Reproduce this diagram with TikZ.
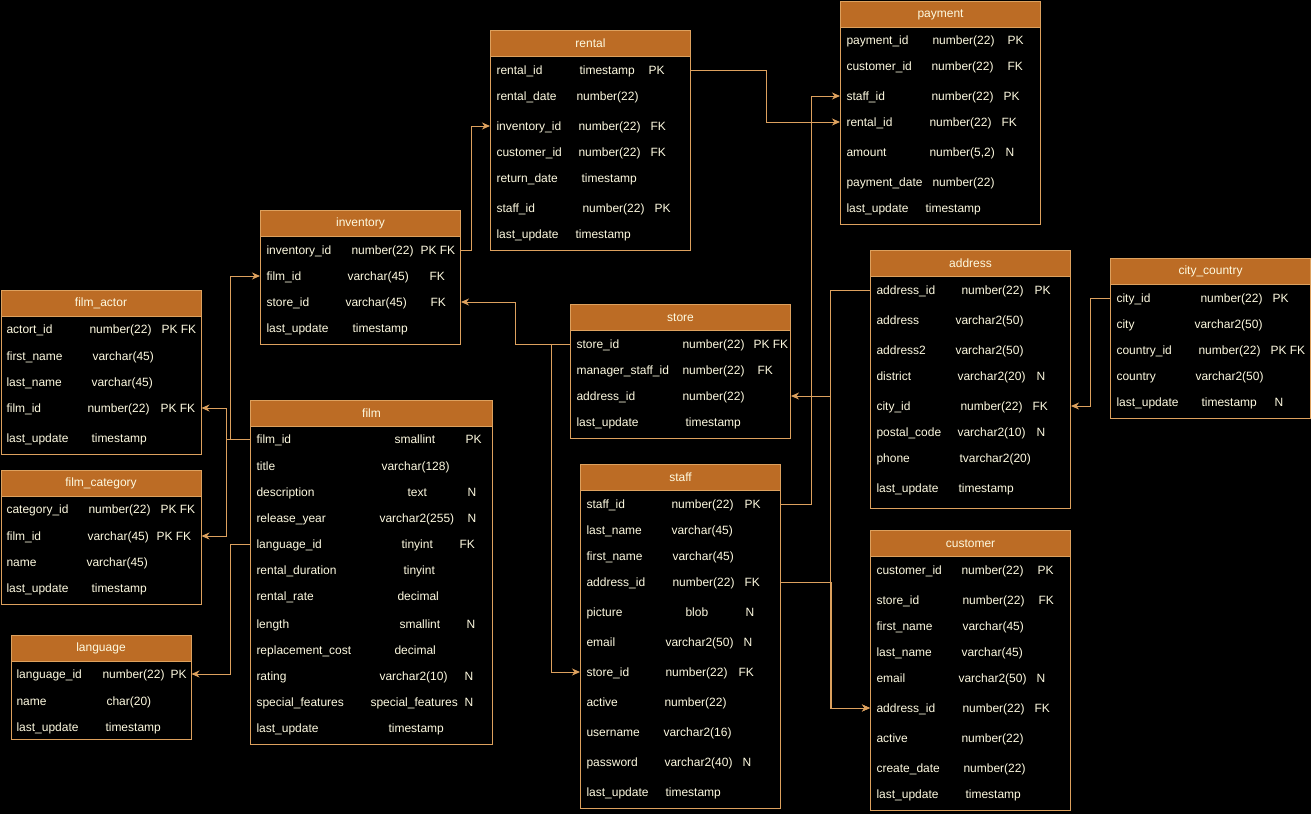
\documentclass[tikz,border=0pt]{standalone}
\usepackage{fontspec}
\setmainfont{Liberation Sans}
\usetikzlibrary{arrows.meta}
\definecolor{head}{HTML}{BC6C25}
\definecolor{edge}{HTML}{DDA15E}
\definecolor{cream}{HTML}{FEFAE0}
\tikzset{
	hdr/.style={draw=edge,fill=head,text=cream,anchor=north west,inner sep=0pt,minimum height=26},
	tbody/.style={draw=edge,anchor=north west,inner sep=0pt},
	cell/.style={anchor=base west,text=cream,inner sep=0pt},
	link/.style={draw=edge,-{Stealth[length=8pt,width=7pt,inset=2.5pt]}},
}
\newcommand\entity[6]{%
	\node [hdr,minimum width=#4] (#1) at (#2,#3) {#6};
	\node [tbody,minimum width=#4,minimum height=#5-#3-26] (#1-b) at (#2,#3+26) {};
}
\newcommand\rows[3]{%
	\foreach \ry/\rn/\rx/\rt/\kx/\rk [count=\ri] in {#3}{
		\node [cell] (#1-\ri) at (#2,\ry+4.5) {\rn};
		\node [cell] (#1-\ri-t) at (\rx,\ry+4.5) {\rt};
		\node [cell] (#1-\ri-k) at (\kx,\ry+4.5) {\rk};
		\coordinate (#1-\ri-l) at (#1-b.west |- 0,\ry);
		\coordinate (#1-\ri-r) at (#1-b.east |- 0,\ry);
	}
}
\begin{document}
\begin{tikzpicture}[x=1pt,y=-1pt,line width=1pt,font=\fontsize{12}{14}\selectfont]
	\fill [black] (0,0) rectangle (1311,814);
	\useasboundingbox (0,0) rectangle (1311,814);
	\entity{payment}{840}{1}{200}{224}{payment}
	\rows{payment}{846}{40/payment\_id/932/number(22)/1007/PK,
		66/customer\_id/931/number(22)/1007/FK,
		96/staff\_id/931/number(22)/1003/PK,
		122/rental\_id/929/number(22)/1001/FK,
		152/amount/929/{number(5,2)}/1005/N,
		182/payment\_date/932/number(22)/0/{},
		208/last\_update/925/timestamp/0/{}}
	\entity{rental}{490}{30}{200}{250}{rental}
	\rows{rental}{496}{70/rental\_id/579/timestamp/648/PK,
		96/rental\_date/576/number(22)/0/{},
		126/inventory\_id/578/number(22)/650/FK,
		152/customer\_id/578/number(22)/650/FK,
		178/return\_date/581/timestamp/0/{},
		208/staff\_id/582/number(22)/654/PK,
		234/last\_update/575/timestamp/0/{}}
	\entity{inventory}{260}{210}{200}{344}{inventory}
	\rows{inventory}{266}{250/inventory\_id/351/number(22)/420/PK FK,
		276/film\_id/347/varchar(45)/429/FK,
		302/store\_id/345/varchar(45)/430/FK,
		328/last\_update/352/timestamp/0/{}}
	\entity{actor}{0.5}{290}{200}{454}{film\_actor}
	\rows{actor}{6}{329/actort\_id/89/number(22)/161/PK FK,
		356/first\_name/92/varchar(45)/0/{},
		382/last\_name/91/varchar(45)/0/{},
		408/film\_id/87/number(22)/160/PK FK,
		438/last\_update/91/timestamp/0/{}}
	\entity{category}{0.5}{470}{200}{604}{film\_category}
	\rows{category}{6}{509/category\_id/88/number(22)/160/PK FK,
		536/film\_id/87/varchar(45)/156/PK FK,
		562/name/86/varchar(45)/0/{},
		588/last\_update/91/timestamp/0/{}}
	\entity{language}{10.5}{635}{180}{739}{language}
	\rows{language}{16}{674/language\_id/102/number(22)/170/PK,
		701/name/106/char(20)/0/{},
		727/last\_update/105/timestamp/0/{}}
	\entity{film}{250}{400}{242}{744}{film}
	\rows{film}{256}{439/film\_id/394/smallint/465/PK,
		466/title/381/varchar(128)/0/{},
		492/description/407/text/467/N,
		518/release\_year/379/varchar2(255)/467/N,
		544/language\_id/401/tinyint/459/FK,
		570/rental\_duration/403/tinyint/0/{},
		596/rental\_rate/397/decimal/0/{},
		624/length/399/smallint/466/N,
		650/replacement\_cost/394/decimal/0/{},
		676/rating/379/varchar2(10)/464/N,
		702/special\_features/370/special\_features/464/N,
		728/last\_update/388/timestamp/0/{}}
	\entity{store}{570}{304}{220}{438}{store}
	\rows{store}{576}{344/store\_id/682/number(22)/753/PK FK,
		370/manager\_staff\_id/682/number(22)/757/FK,
		396/address\_id/682/number(22)/0/{},
		422/last\_update/685/timestamp/0/{}}
	\entity{staff}{580}{464}{200}{808}{staff}
	\rows{staff}{586}{504/staff\_id/671/number(22)/744/PK,
		530/last\_name/671/varchar(45)/0/{},
		556/first\_name/672/varchar(45)/0/{},
		582/address\_id/672/number(22)/744/FK,
		612/picture/685/blob/745/N,
		642/email/665/varchar2(50)/743/N,
		672/store\_id/665/number(22)/738/FK,
		702/active/664/number(22)/0/{},
		732/username/663/varchar2(16)/0/{},
		762/password/664/varchar2(40)/742/N,
		792/last\_update/665/timestamp/0/{}}
	\entity{address}{870}{250}{200}{508}{address}
	\rows{address}{876}{290/address\_id/961/number(22)/1034/PK,
		320/address/955/varchar2(50)/0/{},
		350/address2/955/varchar2(50)/0/{},
		376/district/957/varchar2(20)/1036/N,
		406/city\_id/960/number(22)/1032/FK,
		432/postal\_code/957/varchar2(10)/1036/N,
		458/phone/959/tvarchar2(20)/0/{},
		488/last\_update/958/timestamp/0/{}}
	\entity{customer}{870}{530}{200}{810}{customer}
	\rows{customer}{876}{570/customer\_id/961/number(22)/1037/PK,
		600/store\_id/962/number(22)/1038/FK,
		626/first\_name/962/varchar(45)/0/{},
		652/last\_name/961/varchar(45)/0/{},
		678/email/958/varchar2(50)/1036/N,
		708/address\_id/962/number(22)/1034/FK,
		738/active/961/number(22)/0/{},
		768/create\_date/963/number(22)/0/{},
		794/last\_update/965/timestamp/0/{}}
	\entity{city}{1110}{258}{200}{418}{city\_country}
	\rows{city}{1116}{298/city\_id/1200/number(22)/1272/PK,
		324/city/1194/varchar2(50)/0/{},
		350/country\_id/1198/number(22)/1270/PK FK,
		376/country/1195/varchar2(50)/0/{},
		402/last\_update/1201/timestamp/1274/N}
	\draw [link] (rental-1-r) -- ++(75,0) |- (payment-4-l);
	\draw [link] (staff-1-r) -- ++(30,0) |- (payment-3-l);
	\draw [link] (inventory-1-r) -- ++(10,0) |- (rental-3-l);
	\draw [link] (store-1-l) -- ++(-55,0) |- (inventory-3-r);
	\draw [link] (store-1-l) -- ++(-19,0) |- (staff-7-l);
	\draw [link] (address-1-l) -- ++(-40,0) |- (store-3-r);
	\draw [link] (address-1-l) -- ++(-40,0) |- (customer-6-l);
	\draw [link] (staff-4-r) -- ++(50,0) |- (customer-6-l);
	\draw [link] (city-1-l) -- ++(-20,0) |- (address-5-r);
	\draw [link] (film-1-l) -- ++(-20,0) |- (inventory-2-l);
	\draw [link] (film-1-l) -- ++(-24,0) |- (actor-4-r);
	\draw [link] (film-1-l) -- ++(-24,0) |- (category-2-r);
	\draw [link] (film-5-l) -- ++(-20,0) |- (language-1-r);
\end{tikzpicture}
\end{document}
